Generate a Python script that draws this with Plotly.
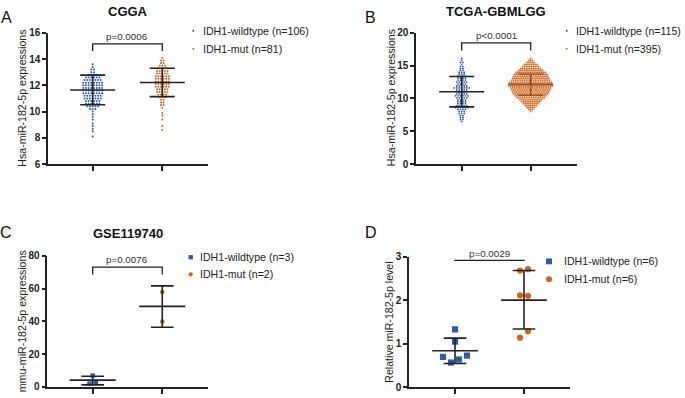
import plotly.graph_objects as go

W, H = 685, 398
FONT = "Liberation Sans, Arial, sans-serif"
BLUE = "#2D5BA9"
ORANGE = "#D0661E"
LINE = "#222222"
TXT = "#222222"

group_names = ["IDH1-wildtype", "IDH1-mut"]

# ---------------- A: CGGA (dot rows: value level and number of dots at that level)
a_wt_levels = [8.1, 8.5, 8.7, 8.9, 9.1, 9.4, 9.6, 9.8, 10.0, 10.2, 10.4, 10.6, 10.8, 11.0,
               11.2, 11.4, 11.6, 11.8, 12.0, 12.2, 12.4, 12.6, 12.8, 13.0, 13.2, 13.4, 13.6]
a_wt_counts = [1, 1, 1, 1, 1, 1, 1, 1, 1, 3, 5, 6, 6, 7, 7, 8, 8, 8, 8, 8, 7, 6, 4, 2, 2, 1, 1]
a_mut_levels = [8.6, 8.9, 9.4, 9.7, 9.9, 10.3, 10.5, 10.7, 10.9, 11.1, 11.3, 11.5, 11.7, 11.9,
                12.1, 12.3, 12.5, 12.7, 12.9, 13.1, 13.3, 13.5, 13.7, 13.9, 14.1]
a_mut_counts = [1, 1, 1, 1, 1, 1, 2, 2, 2, 3, 4, 5, 5, 6, 6, 6, 6, 6, 5, 5, 4, 3, 2, 2, 1]
a_mean = [11.64, 12.22]
a_sd_low = [10.52, 11.14]
a_sd_high = [12.78, 13.30]
a_n = [106, 81]
a_p = "p=0.0006"
a_ticks = [6, 8, 10, 12, 14, 16]

# ---------------- B: TCGA-GBMLGG
b_wt_levels = [6.5, 6.8, 7.1, 7.4, 7.7, 8.0, 8.3, 8.6, 8.9, 9.2, 9.5, 9.8, 10.1, 10.4, 10.7, 11.0,
               11.3, 11.6, 11.9, 12.2, 12.5, 12.8, 13.1, 13.4, 13.7, 14.0, 14.3, 14.6, 14.9, 15.2,
               15.5, 15.8, 16.1]
b_wt_counts = [1, 2, 2, 2, 3, 3, 4, 6, 5, 4, 4, 4, 5, 6, 5, 4, 5, 7, 5, 4, 5, 4, 4, 4, 3, 3, 2, 2,
               2, 1, 2, 1, 1]
b_mut_levels = [8.0, 8.3, 8.6, 8.9, 9.2, 9.5, 9.8, 10.1, 10.4, 10.7, 11.0, 11.3, 11.6, 11.9,
                12.2, 12.5, 12.8, 13.1, 13.4, 13.7, 14.0, 14.3, 14.6, 14.9, 15.2, 15.5, 15.8, 16.1]
b_mut_counts = [1, 3, 5, 7, 9, 11, 13, 16, 18, 20, 21, 22, 23, 25, 25, 24, 22, 21, 20, 19, 17, 14,
                12, 10, 8, 5, 3, 1]
b_mean = [11.03, 12.15]
b_sd_low = [8.72, 10.49]
b_sd_high = [13.35, 13.70]
b_n = [115, 395]
b_p = "p<0.0001"
b_ticks = [0, 5, 10, 15, 20]

# ---------------- C: GSE119740
c_wt = [6.9, 2.0, 2.8]
c_mut = [58.0, 40.0]
c_mean = [4.1, 49.2]
c_sd_low = [1.2, 36.4]
c_sd_high = [6.5, 61.7]
c_n = [3, 2]
c_p = "p=0.0076"
c_ticks = [0, 20, 40, 60, 80]

# ---------------- D: relative level
d_wt = [1.33, 1.05, 0.70, 0.57, 0.64, 0.73]
d_mut = [2.68, 2.71, 2.11, 2.10, 1.14, 1.29]
d_mean = [0.84, 2.00]
d_sd_low = [0.55, 1.34]
d_sd_high = [1.13, 2.68]
d_n = [6, 6]
d_p = "p=0.0029"
d_ticks = [0, 1, 2, 3]


def expand(levels, counts):
    return [lv for lv, c in zip(levels, counts) for _ in range(c)]


def px2x(px):
    return px / W


def px2y(py):
    return 1 - py / H


# panel geometry (pixels) and axis ranges
panels = [
    dict(letter="A", title="CGGA", xpx=(48, 208), ypx=(27.7, 163), xr=(0.358, 2.657), yr=(6, 16),
         ticks=a_ticks, ytitle="Hsa-miR-182-5p expressions",
         data=[expand(a_wt_levels, a_wt_counts), expand(a_mut_levels, a_mut_counts)],
         mean=a_mean, lo=a_sd_low, hi=a_sd_high, n=a_n, p=a_p,
         msize=2.0, symbols=["circle", "circle"], thresh=1.0, spacing=[2.7, 2.6],
         mean_half=22.5, cap_half=12.5, bracket=(15.16, 14.61), ptext_y=31.7,
         letter_xy=(6.5, 12), title_xy=(128, 6), ytitle_xy=(22.5, 95),
         leg_marker_x=193.3, leg_text_x=201, leg_y=(25.5, 44), leg_kind="dot", bar_layer="above"),
    dict(letter="B", title="TCGA-GBMLGG", xpx=(416, 577), ypx=(27.7, 163), xr=(0.338, 2.671), yr=(0, 20),
         ticks=b_ticks, ytitle="Hsa-miR-182-5p expressions",
         data=[expand(b_wt_levels, b_wt_counts), expand(b_mut_levels, b_mut_counts)],
         mean=b_mean, lo=b_sd_low, hi=b_sd_high, n=b_n, p=b_p,
         msize=1.8, symbols=["circle", "circle"], thresh=1.0, spacing=[2.5, 1.8],
         mean_half=22.5, cap_half=12.5, bracket=(18.47, 17.33), ptext_y=30.3,
         letter_xy=(370.5, 12), title_xy=(496.3, 6), ytitle_xy=(391, 95),
         leg_marker_x=566.7, leg_text_x=574, leg_y=(25.5, 44), leg_kind="dot", bar_layer="below"),
    dict(letter="C", title="GSE119740", xpx=(47.3, 208), ypx=(257.7, 392.7), xr=(0.348, 2.657), yr=(0, 80),
         ticks=c_ticks, ytitle="mmu-miR-182-5p expressions",
         data=[c_wt, c_mut],
         mean=c_mean, lo=c_sd_low, hi=c_sd_high, n=c_n, p=c_p,
         msize=4.5, symbols=["square", "circle"], thresh=5.0, spacing=[6.4, 6.4],
         mean_half=23, cap_half=11.3, bracket=(73.1, 68.7), ptext_y=261.7,
         letter_xy=(6, 234), title_xy=(127.5, 235), ytitle_xy=(22, 325),
         leg_marker_x=190.7, leg_text_x=198, leg_y=(259, 276.7), leg_kind="shape4", bar_layer="above"),
    dict(letter="D", title="", xpx=(409, 570), ypx=(258.3, 393.3), xr=(0.333, 2.667), yr=(0, 3),
         ticks=d_ticks, ytitle="Relative miR-182-5p level",
         data=[d_wt, d_mut],
         mean=d_mean, lo=d_sd_low, hi=d_sd_high, n=d_n, p=d_p,
         msize=6.2, symbols=["square", "circle"], thresh=7.0, spacing=[8.0, 8.0],
         mean_half=22.8, cap_half=11.3, bracket=(2.91, None), ptext_y=255,
         letter_xy=(371, 234), title_xy=None, ytitle_xy=(389.5, 326),
         leg_marker_x=549, leg_text_x=561.7, leg_y=(263.3, 281.7), leg_kind="shape6", bar_layer="above"),
]


def swarm(values, px_per_y, thresh, spacing, px_per_x):
    order = sorted(range(len(values)), key=lambda i: values[i])
    groups, cur = [], [order[0]]
    for prev, i in zip(order, order[1:]):
        if (values[i] - values[prev]) * px_per_y < thresh:
            cur.append(i)
        else:
            groups.append(cur)
            cur = [i]
    groups.append(cur)
    off = [0.0] * len(values)
    for g in groups:
        g = sorted(g)
        n = len(g)
        for k, i in enumerate(g):
            off[i] = (k - (n - 1) / 2) * spacing / px_per_x
    return off


fig = go.Figure()
layout = dict(width=W, height=H, margin=dict(l=0, r=0, t=0, b=0), autosize=False,
              paper_bgcolor="white", plot_bgcolor="white", showlegend=False,
              font=dict(family=FONT, color=TXT))
shapes, annos = [], []
colors = [BLUE, ORANGE]

for k, P in enumerate(panels):
    sfx = "" if k == 0 else str(k + 1)
    xa, ya = "x" + sfx, "y" + sfx
    x0, x1 = P["xpx"]
    yt, yb = P["ypx"]
    px_per_x = (x1 - x0) / (P["xr"][1] - P["xr"][0])
    px_per_y = (yb - yt) / (P["yr"][1] - P["yr"][0])
    layout["xaxis" + sfx] = dict(domain=[px2x(x0), px2x(x1)], range=list(P["xr"]), anchor=ya,
                                 tickvals=[1, 2], showticklabels=False, ticks="outside", ticklen=5,
                                 tickwidth=1.5, tickcolor=LINE, showline=True, linecolor=LINE,
                                 linewidth=1.5, showgrid=False, zeroline=False, fixedrange=True)
    layout["yaxis" + sfx] = dict(domain=[px2y(yb), px2y(yt)], range=list(P["yr"]), anchor=xa,
                                 tickvals=P["ticks"], ticks="outside", ticklen=4, tickwidth=1.5,
                                 tickcolor=LINE, showline=True, linecolor=LINE, linewidth=1.5,
                                 showgrid=False, zeroline=False,
                                 tickfont=dict(family=FONT, size=10, color=TXT, weight="bold"),
                                 fixedrange=True)

    # error bars (mean +/- SD)
    for g in range(2):
        pos = g + 1
        mh = P["mean_half"] / px_per_x
        ch = P["cap_half"] / px_per_x
        lay = P["bar_layer"] if g == 1 else "above"
        segs = [(pos, P["lo"][g], pos, P["hi"][g]),
                (pos - mh, P["mean"][g], pos + mh, P["mean"][g]),
                (pos - ch, P["lo"][g], pos + ch, P["lo"][g]),
                (pos - ch, P["hi"][g], pos + ch, P["hi"][g])]
        for (sx0, sy0, sx1, sy1) in segs:
            shapes.append(dict(type="line", xref=xa, yref=ya, x0=sx0, y0=sy0, x1=sx1, y1=sy1,
                               line=dict(color=LINE, width=1.6), layer=lay))

    # dots
    for g in range(2):
        vals = P["data"][g]
        off = swarm(vals, px_per_y, P["thresh"], P["spacing"][g], px_per_x)
        fig.add_trace(go.Scatter(x=[g + 1 + o for o in off], y=vals, mode="markers",
                                 xaxis=xa, yaxis=ya, cliponaxis=False, hoverinfo="skip",
                                 marker=dict(size=P["msize"], color=colors[g], symbol=P["symbols"][g],
                                             line=dict(width=0))))

    # significance bracket
    btop, bdrop = P["bracket"]
    if bdrop is not None:
        shapes.append(dict(type="path", xref=xa, yref=ya,
                           path=f"M 1,{bdrop} L 1,{btop} L 2,{btop} L 2,{bdrop}",
                           line=dict(color=LINE, width=1.3)))
    else:
        shapes.append(dict(type="line", xref=xa, yref=ya, x0=0.99, y0=btop, x1=2.01, y1=btop,
                           line=dict(color=LINE, width=1.3)))
    annos.append(dict(x=1.5, xref=xa, y=px2y(P["ptext_y"]), yref="paper", text=P["p"],
                      showarrow=False, xanchor="center", yanchor="middle",
                      font=dict(family=FONT, size=9.8, color="#333333")))

    # panel letter, title, y-title
    annos.append(dict(x=px2x(P["letter_xy"][0]), y=px2y(P["letter_xy"][1]), xref="paper", yref="paper",
                      text=P["letter"], showarrow=False, xanchor="center", yanchor="middle",
                      font=dict(family=FONT, size=16, color="#111111")))
    if P["title_xy"]:
        annos.append(dict(x=px2x(P["title_xy"][0]), y=px2y(P["title_xy"][1]), xref="paper",
                          yref="paper", text=P["title"], showarrow=False, xanchor="center",
                          yanchor="middle",
                          font=dict(family=FONT, size=13, color="#111111", weight="bold")))
    annos.append(dict(x=px2x(P["ytitle_xy"][0]), y=px2y(P["ytitle_xy"][1]), xref="paper",
                      yref="paper", text=P["ytitle"], textangle=-90, showarrow=False,
                      xanchor="center", yanchor="middle",
                      font=dict(family=FONT, size=10.6, color=TXT)))

    # legend
    for g in range(2):
        ly = P["leg_y"][g]
        mx = P["leg_marker_x"]
        if P["leg_kind"] == "dot":
            r = 1.0
            shapes.append(dict(type="circle", xref="paper", yref="paper",
                               x0=px2x(mx - r), x1=px2x(mx + r), y0=px2y(ly + r), y1=px2y(ly - r),
                               fillcolor=colors[g], line=dict(width=0)))
        else:
            r = 2.2 if P["leg_kind"] == "shape4" else 3.0
            shapes.append(dict(type="rect" if g == 0 else "circle", xref="paper", yref="paper",
                               x0=px2x(mx - r), x1=px2x(mx + r), y0=px2y(ly + r), y1=px2y(ly - r),
                               fillcolor=colors[g], line=dict(width=0)))
        annos.append(dict(x=px2x(P["leg_text_x"]), y=px2y(ly), xref="paper", yref="paper",
                          text=f"{group_names[g]} (n={P['n'][g]})", showarrow=False,
                          xanchor="left", yanchor="middle",
                          font=dict(family=FONT, size=10.6, color=TXT)))

layout["shapes"] = shapes
layout["annotations"] = annos
fig.update_layout(**layout)
fig.write_html("out.html", config=dict(displayModeBar=False),
               post_script="document.body.style.margin='0px';document.body.style.overflow='hidden';")
